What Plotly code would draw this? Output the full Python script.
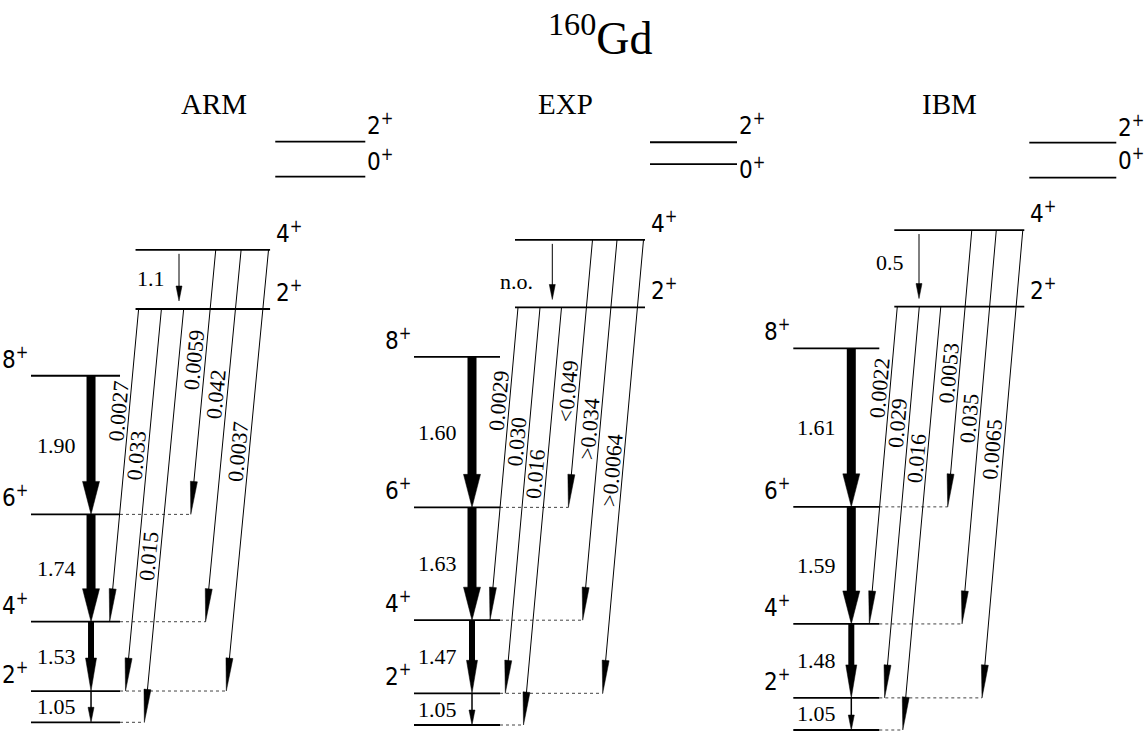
import math
import plotly.graph_objects as go

# ---------------- data ----------------
TITLE = "<sup>160</sup>Gd"
PANELS = ["ARM", "EXP", "IBM"]

# ground band spins and level energies (keV)
GROUND_SPINS = ["0", "2", "4", "6", "8"]
ARM_GROUND = [0, 74, 238, 492, 820]
EXP_GROUND = [0, 75, 248, 515, 871]
IBM_GROUND = [0, 76, 251, 528, 903]

# gamma band (2+, 4+)
GAMMA_SPINS = ["2", "4"]
ARM_GAMMA = [978, 1118]
EXP_GAMMA = [988, 1148]
IBM_GAMMA = [1002, 1183]

# beta band (0+, 2+)
BETA_SPINS = ["0", "2"]
ARM_BETA = [1291, 1374]
EXP_BETA = [1327, 1379]
IBM_BETA = [1307, 1390]

# ground-band transitions 8->6, 6->4, 4->2, 2->0
GSB_FROM = ["8", "6", "4", "2"]
GSB_TO = ["6", "4", "2", "0"]
ARM_GSB = ["1.90", "1.74", "1.53", "1.05"]
EXP_GSB = ["1.60", "1.63", "1.47", "1.05"]
IBM_GSB = ["1.61", "1.59", "1.48", "1.05"]

# gamma 4+ -> gamma 2+
ARM_GG = "1.1"
EXP_GG = "n.o."
IBM_GG = "0.5"

# inter-band transitions (gamma level -> ground level)
INTER_FROM = ["2", "2", "2", "4", "4", "4"]
INTER_TO = ["4", "2", "0", "6", "4", "2"]
ARM_INTER = ["0.0027", "0.033", "0.015", "0.0059", "0.042", "0.0037"]
EXP_INTER = ["0.0029", "0.030", "0.016", "<0.049", ">0.034", ">0.0064"]
IBM_INTER = ["0.0022", "0.029", "0.016", "0.0053", "0.035", "0.0065"]

DATA = [
    dict(g=ARM_GROUND, ga=ARM_GAMMA, b=ARM_BETA, gsb=ARM_GSB, gg=ARM_GG, inter=ARM_INTER),
    dict(g=EXP_GROUND, ga=EXP_GAMMA, b=EXP_BETA, gsb=EXP_GSB, gg=EXP_GG, inter=EXP_INTER),
    dict(g=IBM_GROUND, ga=IBM_GAMMA, b=IBM_BETA, gsb=IBM_GSB, gg=IBM_GG, inter=IBM_INTER),
]

# ---------------- layout / style ----------------
W, H = 1146, 731
S = 0.4226                      # px per keV
BASE = [722.3, 725.0, 730.0]    # pixel row of E=0 in each panel
X0 = [31.0, 414.0, 793.3]       # left edge of each panel's ground band
XS = [1.035, 1.0, 1.0]          # horizontal stretch of each panel
YA = ["y", "y2", "y3"]

GROUND_X = (0, 86)
GAMMA_X = (101, 231)
BETA_X = (236, 323)
GSB_ARROW_X = 58
GG_ARROW_X = [143, 138.3, 125.7]
GG_LABEL_DX = [12, 17, 13]
GG_LABEL_DY = [1, -8, 6]
START_X = [104, 126, 147.5, 178.5, 203, 229.5]
END_X = [76, 91.3, 109.5, 154.4, 168.7, 188.7]
LABEL_T = [[0.33, 0.387, 0.60, 0.42, 0.39, 0.46],
           [0.30, 0.35, 0.40, 0.57, 0.50, 0.51],
           [0.26, 0.30, 0.36, 0.52, 0.48, 0.47]]
BETA_LABEL_DY = [[17, 18], [-3.5, 18], [18.5, 17]]
TITLE_X = [177, 151, 156]

GSB_SHAFT = [9, 9, 6, 1.5]
GSB_HEAD_W = [17, 17, 11, 6]
GSB_HEAD_L = [33, 33, 33, 15]

NUM_FONT = dict(family="Liberation Serif, Times New Roman, serif", size=22, color="black")
SPIN_FONT = dict(family="Liberation Sans Narrow, DejaVu Sans Condensed, sans-serif", size=24, color="black")


def px2e(p, ypx):
    return (BASE[p] - ypx) / S


def e2px(p, e):
    return BASE[p] - e * S


def X(p, rel):
    return X0[p] + rel * XS[p]


fig = go.Figure()


def add_line(p, xs, ys_px, width=1.0, dash=None, color="black"):
    fig.add_trace(go.Scatter(
        x=xs, y=[px2e(p, v) for v in ys_px], mode="lines",
        line=dict(color=color, width=width, dash=dash),
        yaxis=YA[p], hoverinfo="skip", showlegend=False))


def add_tri(p, pts):
    xs = [q[0] for q in pts] + [pts[0][0]]
    ys = [px2e(p, q[1]) for q in pts] + [px2e(p, pts[0][1])]
    fig.add_trace(go.Scatter(
        x=xs, y=ys, mode="lines", fill="toself", fillcolor="black",
        line=dict(color="black", width=0.5),
        yaxis=YA[p], hoverinfo="skip", showlegend=False))


def arrow(p, x0, y0, x1, y1, shaft_w, head_w, head_l):
    dx, dy = x1 - x0, y1 - y0
    L = math.hypot(dx, dy)
    ux, uy = dx / L, dy / L
    bx, by = x1 - head_l * ux, y1 - head_l * uy
    nx, ny = -uy, ux
    add_line(p, [x0, bx + 2 * ux], [y0, by + 2 * uy], width=shaft_w)
    add_tri(p, [(x1, y1),
                (bx + nx * head_w / 2, by + ny * head_w / 2),
                (bx - nx * head_w / 2, by - ny * head_w / 2)])


annotations = []


def ann(p, x, ypx, text, font, **kw):
    d = dict(x=x, y=px2e(p, ypx), xref="x", yref=YA[p], text=text,
             showarrow=False, font=font)
    d.update(kw)
    annotations.append(d)


for p, name in enumerate(PANELS):
    d = DATA[p]
    g = dict(zip(GROUND_SPINS, d["g"]))
    ga = dict(zip(GAMMA_SPINS, d["ga"]))
    b = dict(zip(BETA_SPINS, d["b"]))

    # panel title
    ann(p, X(p, TITLE_X[p]), 104, name,
        dict(family=NUM_FONT["family"], size=29, color="black"))

    # ground band levels
    for sp in GROUND_SPINS:
        y = e2px(p, g[sp])
        add_line(p, [X(p, GROUND_X[0]), X(p, GROUND_X[1])], [y, y], width=1.8)
        if sp != "0":
            ann(p, X(p, GROUND_X[0]) - 1, y - 18, sp + "<sup>+</sup>", SPIN_FONT,
                xanchor="right", yanchor="middle")
    # gamma band
    for sp in GAMMA_SPINS:
        y = e2px(p, ga[sp])
        add_line(p, [X(p, GAMMA_X[0]), X(p, GAMMA_X[1])], [y, y], width=1.8)
        ann(p, X(p, GAMMA_X[1]) + 4, y - 18, sp + "<sup>+</sup>", SPIN_FONT,
            xanchor="left", yanchor="middle")
    # beta band
    for i, sp in enumerate(BETA_SPINS):
        y = e2px(p, b[sp])
        add_line(p, [X(p, BETA_X[0]), X(p, BETA_X[1])], [y, y], width=1.8)
        ann(p, X(p, BETA_X[1]), y - BETA_LABEL_DY[p][i], sp + "<sup>+</sup>", SPIN_FONT,
            xanchor="left", yanchor="middle")

    # dotted extensions of ground levels to the inter-band arrow tips
    ext = {}
    for i, to in enumerate(INTER_TO):
        ext[to] = max(ext.get(to, 0), END_X[i])
    for sp, ex in ext.items():
        y = e2px(p, g[sp])
        add_line(p, [X(p, GROUND_X[1]), X(p, ex)], [y, y], width=1.0, dash="dot", color="#444")

    # ground band transitions
    ax = X(p, GSB_ARROW_X)
    for i in range(len(GSB_FROM)):
        y0 = e2px(p, g[GSB_FROM[i]])
        y1 = e2px(p, g[GSB_TO[i]])
        arrow(p, ax, y0, ax, y1, GSB_SHAFT[i], GSB_HEAD_W[i], GSB_HEAD_L[i])
        ann(p, ax - 13, (y0 + y1) / 2, d["gsb"][i], NUM_FONT,
            xanchor="right", yanchor="middle")

    # gamma 4 -> gamma 2
    gx = X(p, GG_ARROW_X[p])
    y0 = e2px(p, ga["4"]) + 4
    y1 = e2px(p, ga["2"]) - 8
    arrow(p, gx, y0, gx, y1, 1.0, 6, 15)
    ann(p, gx - GG_LABEL_DX[p], (e2px(p, ga["4"]) + e2px(p, ga["2"])) / 2 - GG_LABEL_DY[p],
        d["gg"], NUM_FONT, xanchor="right", yanchor="middle")

    # inter-band transitions
    for i in range(len(INTER_FROM)):
        x0 = X(p, START_X[i])
        y0 = e2px(p, ga[INTER_FROM[i]])
        x1 = X(p, END_X[i])
        y1 = e2px(p, g[INTER_TO[i]])
        arrow(p, x0, y0, x1, y1, 1.0, 7, 33)
        t = LABEL_T[p][i]
        px_, py_ = x0 + t * (x1 - x0), y0 + t * (y1 - y0)
        L = math.hypot(x1 - x0, y1 - y0)
        vx, vy = (x0 - x1) / L, (y0 - y1) / L
        nx, ny = vy, -vx
        cx, cy = px_ + 11 * nx, py_ + 11 * ny
        ang = math.degrees(math.atan2(vy, vx))
        ann(p, cx, cy, d["inter"][i], NUM_FONT, xanchor="center", yanchor="middle",
            textangle=ang)

# main title
annotations.append(dict(x=600 / W, y=1 - 35 / H, xref="paper", yref="paper",
                        text=TITLE, showarrow=False, xanchor="center", yanchor="middle",
                        font=dict(family=NUM_FONT["family"], size=46, color="black")))

axis_common = dict(visible=False, fixedrange=True)
fig.update_layout(
    width=W, height=H,
    margin=dict(l=0, r=0, t=0, b=0),
    paper_bgcolor="white", plot_bgcolor="white",
    showlegend=False,
    xaxis=dict(range=[0, W], **axis_common),
    yaxis=dict(range=[(BASE[0] - H) / S, BASE[0] / S], **axis_common),
    yaxis2=dict(range=[(BASE[1] - H) / S, BASE[1] / S], overlaying="y", **axis_common),
    yaxis3=dict(range=[(BASE[2] - H) / S, BASE[2] / S], overlaying="y", **axis_common),
    annotations=annotations,
)

fig.write_html("out.html",
               config={"displayModeBar": False},
               post_script="document.body.style.margin='0';document.body.style.overflow='hidden';")
